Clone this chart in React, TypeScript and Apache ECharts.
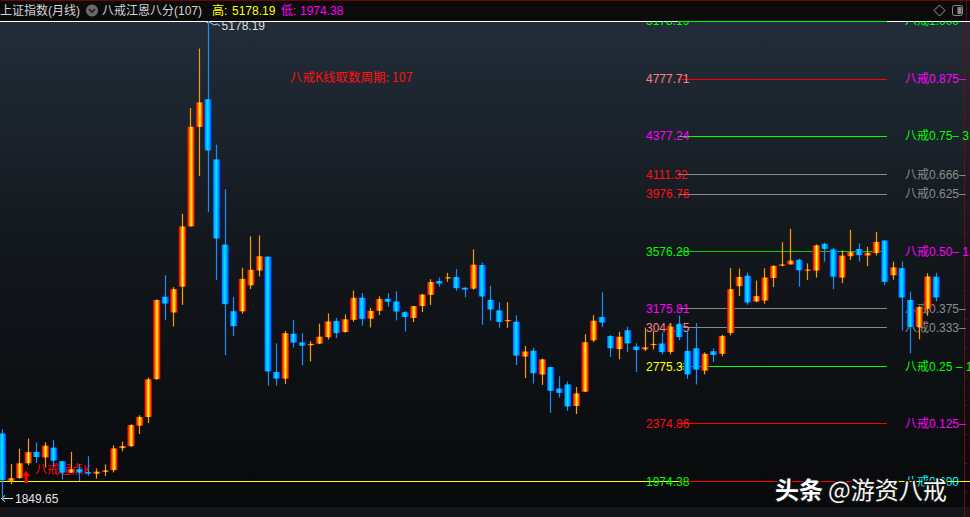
import { useEffect, useRef } from "react";
import * as echarts from "echarts";

// Shanghai Composite monthly candles, 2013-06 … 2022-07 (index 0 … 109)
const OPEN = [
  2305, 1976, 1995, 2098, 2176, 2139, 2207, 2112, 2033, 2057,
  2036, 2025, 2038, 2050, 2203, 2217, 2360, 2420, 2684, 3258,
  3148, 3328, 3748, 4441, 4633, 4214, 3621, 3157, 3156, 3337,
  3441, 3537, 2733, 2687, 3000, 2940, 2920, 2931, 2976, 3088,
  3012, 3097, 3251, 3105, 3160, 3243, 3225, 3150, 3110, 3193,
  3271, 3367, 3391, 3395, 3320, 3314, 3478, 3236, 3163, 3087,
  3084, 2841, 2882, 2716, 2768, 2618, 2647, 2497, 2596, 2954,
  3116, 2984, 2893, 3024, 2911, 2891, 2922, 2932, 2873, 3066,
  2717, 2899, 2743, 2878, 2860, 3006, 3331, 3404, 3262, 3231,
  3388, 3474, 3483, 3515, 3444, 3440, 3626, 3587, 3391, 3540,
  3590, 3545, 3562, 3649, 3407, 3457, 3235, 3047, 3174, 3397,
];
const HIGH = [
  2334.33, 2092.1, 2198.85, 2270.27, 2242.92, 2243.65, 2260.43, 2113.74, 2177.98, 2090,
  2146.67, 2061, 2090, 2222, 2248.75, 2370, 2432, 2695, 3239.36, 3406.79,
  3324, 3835.57, 4572.39, 4986.5, 5178.19, 4317.05, 4006.34, 3256.74, 3459.64, 3678.27,
  3684.57, 3538.69, 2933.27, 3018.8, 3097, 3003, 2949, 3069.89, 3140.88, 3110,
  3135, 3301, 3284, 3180, 3260, 3283, 3295, 3158, 3193, 3276,
  3380, 3392, 3424, 3450.49, 3327, 3587.03, 3495, 3333.88, 3220, 3219.74,
  3128, 2915, 2902, 2827, 2771, 2703.51, 2667, 2630, 2997.49, 3129.94,
  3288.45, 2991, 3014, 3048, 2934, 3042.93, 3021, 3008, 3053, 3127.17,
  3030, 3074.26, 2870, 2898, 2993, 3458.79, 3454, 3425, 3370, 3456,
  3474.68, 3637, 3731.69, 3524, 3490, 3622, 3634, 3598, 3581, 3723.85,
  3630, 3606, 3708.94, 3651, 3502, 3502, 3293, 3193, 3421, 3424.84,
];
const LOW = [
  1849.65, 1951.5, 1990, 2085, 2100, 2068, 2070, 1984.61, 2030, 1974.38,
  2010.66, 1991, 2010, 2034, 2182, 2212, 2302, 2378, 2679, 3095,
  3050, 3201, 3747, 4099, 3847.88, 3373.54, 2850.71, 2983.54, 3140, 3311,
  3399, 2638.3, 2638.96, 2649, 2904, 2780, 2807, 2928, 2960, 2969,
  3008, 3084, 3056, 3044, 3131, 3188, 3093, 3016, 3082, 3151,
  3200, 3328, 3362, 3300, 3254, 3307, 3062.74, 3091, 3041, 3041,
  2782, 2691, 2653, 2644, 2449.2, 2555, 2462.84, 2440.91, 2596, 2941,
  3047, 2838, 2822, 2871, 2733.92, 2880, 2891, 2857, 2857, 2955,
  2685.27, 2646.81, 2717, 2802, 2843, 2989, 3263, 3202, 3220, 3209,
  3325, 3470, 3483, 3328.51, 3374, 3391, 3502, 3310, 3353, 3514,
  3502, 3470, 3545, 3338, 3376, 3023.3, 2863.65, 2961, 3125, 3226,
];
const CLOSE = [
  1979.21, 1993.8, 2098.38, 2174.67, 2141.61, 2220.5, 2115.98, 2033.08, 2056.3, 2033.31,
  2026.36, 2039.21, 2048.33, 2201.56, 2217.2, 2363.87, 2420.18, 2682.84, 3234.68, 3210.36,
  3310.3, 3747.9, 4441.66, 4611.74, 4277.22, 3663.73, 3205.99, 3052.78, 3382.56, 3445.41,
  3539.18, 2737.6, 2687.98, 3003.92, 2938.32, 2916.62, 2929.61, 2979.34, 3085.49, 3004.7,
  3100.49, 3250.03, 3103.64, 3159.17, 3241.73, 3222.51, 3154.66, 3117.18, 3192.43, 3273.03,
  3360.81, 3348.94, 3393.34, 3317.19, 3307.17, 3480.83, 3259.41, 3168.9, 3082.23, 3095.47,
  2847.42, 2876.4, 2725.25, 2821.35, 2602.78, 2588.19, 2493.9, 2584.57, 2940.95, 3090.76,
  3078.34, 2898.7, 2978.88, 2932.51, 2886.24, 2905.19, 2929.06, 2871.98, 3050.12, 2976.53,
  2880.3, 2750.3, 2860.08, 2852.35, 2984.67, 3310.01, 3395.68, 3218.05, 3224.53, 3391.76,
  3473.07, 3483.07, 3509.08, 3441.91, 3446.86, 3615.48, 3591.2, 3397.36, 3543.94, 3568.17,
  3547.34, 3563.89, 3639.78, 3361.44, 3462.31, 3252.2, 3047.06, 3186.43, 3398.62, 3253.24,
];

// 八戒江恩八分 levels
const LEVEL_NAMES = ["1.000", "0.875", "0.75", "0.666", "0.625", "0.50", "0.375", "0.333", "0.25", "0.125", "0.000"];
const LEVEL_VALUES = [5178.19, 4777.71, 4377.24, 4111.32, 3976.76, 3576.28, 3175.81, 3044.15, 2775.33, 2374.86, 1974.38];
const LEVEL_LABELS = ["5178.19", "4777.71", "4377.24", "4111.32", "3976.76", "3576.28", "3175.81", "3044.15", "2775.33", "2374.86", "1974.38"];
const LEVEL_TAILS = ["", "–", "– 3", "–", "–", "– 1", "–", "–", " – 1", "–", ""];
const LEFT_COLORS = ["#00ff00", "#ff8080", "#ff00ff", "#ff1010", "#ff1010", "#00ff00", "#ff00ff", "#ff8080", "#ffff00", "#ff1010", "#00ff00"];
const LINE_COLORS = ["#00ff00", "#ff0000", "#00ff00", "#8a8a8a", "#8a8a8a", "#00d000", "#8a8a8a", "#8a8a8a", "#00ff00", "#ff0000", "#ff0000"];
const RIGHT_COLORS = ["#00ff00", "#ff00ff", "#00ff00", "#8c8c8c", "#8c8c8c", "#ff00ff", "#8c8c8c", "#8c8c8c", "#00ff00", "#ff00ff", "#00ffff"];

const RANGE_HIGH = 5178.19;
const RANGE_LOW = 1974.38;
const FIRST_LOW = 1849.65;
const PEAK_INDEX = 24;
const WINDOW_START = 3;
const PERIOD = 107;

const STOCK_NAME = "上证指数(月线)";
const INDICATOR = "八戒江恩八分(107)";

const X_MIN = -0.2918;
const X_MAX = 112.233;
const Y_MIN = 1900;
const Y_MAX = 5300;
const Y_STEP = 200;
const LEVEL_START = 78.85;
const LEVEL_END = 103.24;

const NUM_FONT = "12px 'Liberation Sans','Noto Sans CJK SC',sans-serif";
const CJK_FONT = "'Noto Sans CJK SC','Liberation Sans',sans-serif";
const AXIS_RED = "#7a0808";

const UP_FILL = new echarts.graphic.LinearGradient(0, 0, 1, 0, [
  { offset: 0, color: "#b80000" },
  { offset: 0.16, color: "#ff2200" },
  { offset: 0.36, color: "#ff9400" },
  { offset: 0.52, color: "#ffff2a" },
  { offset: 0.7, color: "#ff9400" },
  { offset: 0.86, color: "#ff2200" },
  { offset: 1, color: "#c00000" },
]);
const DOWN_FILL = new echarts.graphic.LinearGradient(0, 0, 1, 0, [
  { offset: 0, color: "#0030ff" },
  { offset: 0.18, color: "#00a4ff" },
  { offset: 0.45, color: "#00e8ff" },
  { offset: 0.7, color: "#00a0ff" },
  { offset: 0.88, color: "#0050ff" },
  { offset: 1, color: "#0018c0" },
]);

export default function App() {
  const ref = useRef<HTMLDivElement>(null);
  useEffect(() => {
    document.body.style.margin = "0";
    const chart = echarts.init(ref.current!, undefined, { renderer: "svg" });

    const candleRows = OPEN.map((o, i) => [
      i, o, CLOSE[i], LOW[i], HIGH[i],
      (i === 0 ? CLOSE[0] >= o : CLOSE[i] >= CLOSE[i - 1]) ? 1 : -1,
    ]);
    const levelRows = LEVEL_VALUES.map((v) => [LEVEL_START, v, LEVEL_END]);
    const frameRows = [[X_MIN, RANGE_HIGH, X_MAX], [X_MIN, RANGE_LOW, X_MAX]];
    const frameColors = ["#ffffff", "#ffff00"];
    const markerRows = [[PEAK_INDEX, RANGE_HIGH], [0, FIRST_LOW], [WINDOW_START, RANGE_LOW]];

    const renderCandle = (params: any, api: any) => {
      const i = api.value(0);
      const o = api.value(1), c = api.value(2), l = api.value(3), h = api.value(4);
      const up = api.value(5) > 0;
      const pO = api.coord([i, o]);
      const pC = api.coord([i, c]);
      const pL = api.coord([i, l]);
      const pH = api.coord([i, h]);
      const bw = api.size([1, 0])[0] * 0.88;
      const cx = pO[0];
      const wx = Math.floor(cx) + 0.5;
      const top = Math.min(pO[1], pC[1]);
      const bot = Math.max(pO[1], pC[1]);
      return {
        type: "group",
        children: [
          { type: "line", shape: { x1: wx, y1: pH[1], x2: wx, y2: pL[1] }, style: { stroke: up ? "#ff9a00" : "#1e8cff", lineWidth: 1.2 } },
          { type: "rect", shape: { x: cx - bw / 2, y: top, width: bw, height: Math.max(bot - top, 1.2) }, style: { fill: up ? UP_FILL : DOWN_FILL } },
        ],
      };
    };

    const renderLevel = (params: any, api: any) => {
      const k = params.dataIndex;
      const v = api.value(1);
      const p1 = api.coord([api.value(0), v]);
      const p2 = api.coord([api.value(2), v]);
      const y = Math.round(p1[1]) + 0.5;
      return {
        type: "group",
        children: [
          { type: "line", shape: { x1: p1[0], y1: y, x2: p2[0], y2: y }, style: { stroke: LINE_COLORS[k], lineWidth: 1 } },
          { type: "text", x: p1[0] - 32, y: p1[1] + 0.5, style: { text: LEVEL_LABELS[k], fill: LEFT_COLORS[k], font: NUM_FONT, textAlign: "left", textVerticalAlign: "middle" } },
          { type: "text", x: p2[0] + 18, y: p1[1] + 0.5, style: { text: "八戒" + LEVEL_NAMES[k] + LEVEL_TAILS[k], fill: RIGHT_COLORS[k], font: NUM_FONT, textAlign: "left", textVerticalAlign: "middle" } },
        ],
      };
    };

    const renderFrame = (params: any, api: any) => {
      const v = api.value(1);
      const p1 = api.coord([api.value(0), v]);
      const p2 = api.coord([api.value(2), v]);
      const y = Math.round(p1[1]) + 0.5;
      return { type: "line", shape: { x1: 0, y1: y, x2: p2[0] + 10, y2: y }, style: { stroke: frameColors[params.dataIndex], lineWidth: 1 } };
    };

    const renderMarker = (params: any, api: any) => {
      const p = api.coord([api.value(0), api.value(1)]);
      const k = params.dataIndex;
      if (k === 0) {
        return {
          type: "group",
          children: [
            { type: "rect", shape: { x: p[0] - 1.5, y: p[1] - 1, width: 3, height: 3 }, style: { fill: "#e8e8e8" } },
            { type: "polyline", shape: { points: [[p[0] + 2, p[1] + 1.5], [p[0] + 6, p[1] + 4], [p[0] + 9, p[1] + 3], [p[0] + 12, p[1] + 5]] }, style: { stroke: "#cfcfcf", lineWidth: 1, fill: "none" } },
            { type: "text", x: p[0] + 13.5, y: p[1] + 5.5, style: { text: LEVEL_LABELS[0], fill: "#dcdcdc", font: NUM_FONT, textAlign: "left", textVerticalAlign: "middle" } },
          ],
        };
      }
      if (k === 1) {
        const y = Math.round(p[1]) - 0.5;
        return {
          type: "group",
          children: [
            { type: "line", shape: { x1: 1.5, y1: y, x2: 13, y2: y }, style: { stroke: "#e6e6e6", lineWidth: 1 } },
            { type: "polyline", shape: { points: [[5, y - 3], [1.5, y], [5, y + 3]] }, style: { stroke: "#e6e6e6", lineWidth: 1, fill: "none" } },
            { type: "text", x: 15, y: y, style: { text: "1849.65", fill: "#e6e6e6", font: NUM_FONT, textAlign: "left", textVerticalAlign: "middle" } },
          ],
        };
      }
      const cx = p[0] - 2;
      const by = p[1];
      return {
        type: "group",
        children: [
          { type: "polygon", shape: { points: [[cx, by - 10], [cx + 4.5, by - 5], [cx + 1.5, by - 5], [cx + 1.5, by + 2], [cx - 1.5, by + 2], [cx - 1.5, by - 5], [cx - 4.5, by - 5]] }, style: { fill: "#ff0000" } },
          { type: "text", x: p[0] + 7, y: by - 11, style: { text: "八戒起点K", fill: "#ff0000", font: NUM_FONT, textAlign: "left", textVerticalAlign: "middle" } },
        ],
      };
    };

    const hdrText = (x: number, text: string, fill: string) => ({
      type: "text", x, y: 10.5, z: 101,
      style: { text, fill, font: NUM_FONT, textAlign: "left", textVerticalAlign: "middle" },
    });

    chart.setOption({
      animation: false,
      backgroundColor: "#08090b",
      grid: { left: 0, right: 6, top: 3.51, height: 488.17 },
      xAxis: { type: "value", min: X_MIN, max: X_MAX, show: false },
      yAxis: {
        type: "value", position: "right", min: Y_MIN, max: Y_MAX, interval: Y_STEP,
        axisLine: { show: true, onZero: false, lineStyle: { color: AXIS_RED, width: 1 } },
        axisTick: { show: true, length: 3, lineStyle: { color: AXIS_RED } },
        axisLabel: { show: false },
        splitLine: { show: false },
      },
      graphic: [
        {
          type: "rect", z: -100, shape: { x: 0, y: 21, width: 970, height: 487 },
          style: {
            fill: new echarts.graphic.LinearGradient(0, 0, 0, 1, [
              { offset: 0, color: "#222d39" },
              { offset: 0.45, color: "#13181d" },
              { offset: 1, color: "#08090b" },
            ]),
          },
        },
        { type: "rect", z: -50, shape: { x: 0, y: 507, width: 970, height: 10 }, style: { fill: "#141619" } },
        { type: "line", z: 5, shape: { x1: 964.5, y1: 491, x2: 964.5, y2: 517 }, style: { stroke: AXIS_RED, lineWidth: 1 } },
        { type: "line", z: 5, shape: { x1: 964.5, y1: 520.5, x2: 967.5, y2: 520.5 }, style: { stroke: AXIS_RED, lineWidth: 1 } },
        { type: "rect", z: 100, shape: { x: 0, y: 0, width: 970, height: 21 }, style: { fill: "#0b0b0b" } },
        { type: "rect", z: 101, shape: { x: 0, y: 0, width: 970, height: 1 }, style: { fill: "#6e0606" } },
        { type: "line", z: 101, shape: { x1: 966.5, y1: 0, x2: 966.5, y2: 21 }, style: { stroke: "#6e0606", lineWidth: 1 } },
        hdrText(0, STOCK_NAME, "#d4d4d4"),
        { type: "circle", z: 101, shape: { cx: 92, cy: 10.5, r: 6 }, style: { fill: "#6a6a6a" } },
        { type: "polyline", z: 102, shape: { points: [[89, 9], [92, 12], [95, 9]] }, style: { stroke: "#1c1c1c", lineWidth: 1.6, fill: "none" } },
        hdrText(102, INDICATOR, "#d4d4d4"),
        hdrText(212, "高:", "#ffff00"),
        hdrText(232, RANGE_HIGH.toFixed(2), "#ffff00"),
        hdrText(281, "低:", "#ff00ff"),
        hdrText(300, RANGE_LOW.toFixed(2), "#ff00ff"),
        { type: "polygon", z: 101, shape: { points: [[939.5, 5], [945, 10.5], [939.5, 16], [934, 10.5]] }, style: { stroke: "#9a9a9a", fill: "none", lineWidth: 1 } },
        { type: "rect", z: 101, shape: { x: 952.5, y: 5.5, width: 10, height: 10, r: 2 }, style: { stroke: "#8a8a8a", fill: "none", lineWidth: 1 } },
        { type: "rect", z: 101, shape: { x: 957.5, y: 7, width: 4, height: 7 }, style: { fill: "#8a8a8a" } },
        {
          type: "text", z: 1, x: 290, y: 76.5,
          style: { text: "八戒K线取数周期: " + PERIOD, fill: "#ff1010", font: "12.5px " + CJK_FONT, textAlign: "left", textVerticalAlign: "middle" },
        },
        {
          type: "text", z: 110, x: 775, y: 488,
          style: { text: "头条", fill: "#ffffff", font: "bold 24px " + CJK_FONT, textAlign: "left", textVerticalAlign: "middle", stroke: "#111", lineWidth: 3 },
        },
        {
          type: "text", z: 110, x: 828, y: 488,
          style: { text: "@游资八戒", fill: "#f4f4f4", font: "24px " + CJK_FONT, textAlign: "left", textVerticalAlign: "middle", stroke: "#111", lineWidth: 3 },
        },
      ],
      series: [
        { type: "custom", name: "frame", z: 1, clip: false, renderItem: renderFrame, encode: { x: [0, 2], y: 1 }, data: frameRows, silent: true },
        { type: "custom", name: "levels", z: 2, clip: false, renderItem: renderLevel, encode: { x: [0, 2], y: 1 }, data: levelRows, silent: true },
        { type: "custom", name: "markers", z: 2, clip: false, renderItem: renderMarker, encode: { x: 0, y: 1 }, data: markerRows, silent: true },
        { type: "custom", name: "上证指数", z: 3, clip: false, renderItem: renderCandle, encode: { x: 0, y: [1, 2, 3, 4] }, data: candleRows, silent: true },
      ],
    });
    return () => chart.dispose();
  }, []);
  return <div ref={ref} style={{ position: "absolute", left: 0, top: 0, width: 970, height: 517 }} />;
}
